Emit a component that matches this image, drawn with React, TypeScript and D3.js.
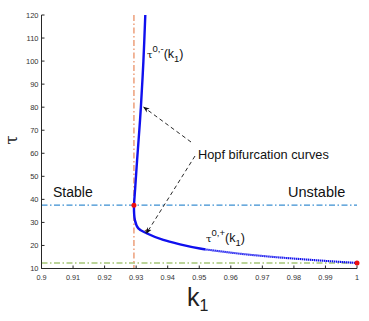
import React from 'react';
import { scaleLinear, line, curveCatmullRom } from 'd3';

// hopf curve as (k1, tau) pairs
const upperBranch = [
  [0.9329, 120], [0.9323, 100], [0.9315, 80], [0.9310, 70], [0.9303, 57],
  [0.9297, 45], [0.9293, 37.5],
];
const lowerBranch = [
  [0.9293, 37.5], [0.9296, 31], [0.9307, 27.4], [0.9333, 25.3], [0.9386, 22.4],
  [0.9439, 20.5], [0.9502, 18.7], [0.9598, 16.9], [0.9703, 15.4], [0.98, 14.3],
  [0.99, 13.3], [1.0, 12.4],
];
const xTicks = [0.9, 0.91, 0.92, 0.93, 0.94, 0.95, 0.96, 0.97, 0.98, 0.99, 1];
const yTicks = [10, 20, 30, 40, 50, 60, 70, 80, 90, 100, 110, 120];
const kCritical = 0.9293;
const tauCritical = 37.5;
const tauMin = 12.4;
const kDotted = 0.952; // past this the curve is drawn as dense markers
const starPoint = [0.9333, 25.3];
const arrowTip = [0.9316, 80];

const W = 369, H = 321;
const margin = { top: 15, right: 12, bottom: 52.5, left: 41.5 };

export default function App() {
  const x = scaleLinear().domain([0.9, 1]).range([margin.left, W - margin.right]);
  const y = scaleLinear().domain([10, 120]).range([H - margin.bottom, margin.top]);
  const path = line<number[]>().x(d => x(d[0])).y(d => y(d[1])).curve(curveCatmullRom.alpha(0.5));
  const font = 'Helvetica, Arial, "Liberation Sans", sans-serif';
  const dashDot = '6 2.5 1.5 2.5';
  const x0 = x.range()[0], x1 = x.range()[1];
  const y0 = y.range()[0], y1 = y.range()[1];

  const arrowStart1 = [191, 142];
  const arrowStart2 = [195, 156];
  const tip1 = [x(arrowTip[0]) + 2.5, y(arrowTip[1])];
  const tip2 = [x(starPoint[0]), y(starPoint[1])];
  const lowerD = path(lowerBranch) || '';

  return (
    <svg width={W} height={H} style={{ position: 'fixed', left: 0, top: 0, background: '#fff' }} fontFamily={font}>
      <defs>
        <marker id="ah" viewBox="0 0 10 10" refX="9" refY="5" markerWidth="7" markerHeight="7" orient="auto">
          <path d="M0,1 L10,5 L0,9 L3,5 Z" fill="#111" />
        </marker>
        <clipPath id="solidPart"><rect x={0} y={0} width={x(kDotted)} height={H} /></clipPath>
        <clipPath id="dotPart"><rect x={x(kDotted)} y={0} width={W} height={H} /></clipPath>
      </defs>

      {/* reference lines */}
      <line x1={x0} x2={x1} y1={y(tauCritical)} y2={y(tauCritical)} stroke="#3b8fd2" strokeWidth={1.1} strokeDasharray={dashDot} />
      <line x1={x0} x2={x1} y1={y(tauMin)} y2={y(tauMin)} stroke="#78a935" strokeWidth={1.1} strokeDasharray={dashDot} />
      <line x1={x(kCritical)} x2={x(kCritical)} y1={y1} y2={y0} stroke="#e8875a" strokeWidth={1.2} strokeDasharray={dashDot} />

      {/* hopf curves */}
      <path d={path(upperBranch) || ''} fill="none" stroke="#1010ee" strokeWidth={2.4} />
      <path d={lowerD} fill="none" stroke="#1010ee" strokeWidth={2.4} clipPath="url(#solidPart)" />
      <path d={lowerD} fill="none" stroke="#1010ee" strokeWidth={2.1} strokeDasharray="1.4 0.6" clipPath="url(#dotPart)" />

      <circle cx={x(kCritical)} cy={y(tauCritical)} r={2.5} fill="#ee1111" />
      <circle cx={x(1)} cy={y(tauMin)} r={2.5} fill="#ee1111" />

      {/* arrows */}
      <line x1={arrowStart1[0]} y1={arrowStart1[1]} x2={tip1[0]} y2={tip1[1]} stroke="#111" strokeWidth={0.9} strokeDasharray="4 3" markerEnd="url(#ah)" />
      <line x1={arrowStart2[0]} y1={arrowStart2[1]} x2={tip2[0]} y2={tip2[1]} stroke="#111" strokeWidth={0.9} strokeDasharray="4 3" markerEnd="url(#ah)" />
      <text x={tip2[0]} y={tip2[1] + 3.5} fontSize={11} textAnchor="middle" fill="#111">*</text>

      {/* axes */}
      <line x1={x0} x2={x0} y1={y1} y2={y0} stroke="#262626" strokeWidth={1} />
      <line x1={x0} x2={x1} y1={y0} y2={y0} stroke="#262626" strokeWidth={1} />
      {yTicks.map(t => (
        <g key={'y' + t}>
          <line x1={x0} x2={x0 + 3} y1={y(t)} y2={y(t)} stroke="#262626" />
          <text x={x0 - 3} y={y(t) + 2.6} fontSize={7.5} textAnchor="end" fill="#333">{t}</text>
        </g>
      ))}
      {xTicks.map(t => (
        <g key={'x' + t}>
          <line x1={x(t)} x2={x(t)} y1={y0} y2={y0 - 3} stroke="#262626" />
          <text x={x(t)} y={y0 + 11} fontSize={7.3} textAnchor="middle" fill="#333">{t}</text>
        </g>
      ))}

      {/* axis labels */}
      <text transform="translate(17,140) rotate(-90)" fontSize={17} textAnchor="middle" fill="#222" fontFamily="'DejaVu Serif', serif">τ</text>
      <text x={187} y={306} fontSize={25} fill="#222">k<tspan fontSize={16} dy={5}>1</tspan></text>

      {/* annotations */}
      <text x={53} y={197} fontSize={14} fill="#111">Stable</text>
      <text x={288} y={197} fontSize={14.5} fill="#111">Unstable</text>
      <text x={198} y={159} fontSize={12.8} fill="#111">Hopf bifurcation curves</text>

      <text x={147} y={58} fontSize={12.5} fill="#111">
        <tspan fontSize={10} fontFamily="'DejaVu Serif', serif">τ</tspan>
        <tspan fontSize={9.5} dy={-6}>0,-</tspan>
        <tspan dy={6}>(k</tspan>
        <tspan fontSize={9.5} dy={4}>1</tspan>
        <tspan dy={-4}>)</tspan>
      </text>
      <text x={206} y={242} fontSize={12.5} fill="#111">
        <tspan fontSize={10} fontFamily="'DejaVu Serif', serif">τ</tspan>
        <tspan fontSize={9.5} dy={-6}>0,+</tspan>
        <tspan dy={6}>(k</tspan>
        <tspan fontSize={9.5} dy={4}>1</tspan>
        <tspan dy={-4}>)</tspan>
      </text>
    </svg>
  );
}
